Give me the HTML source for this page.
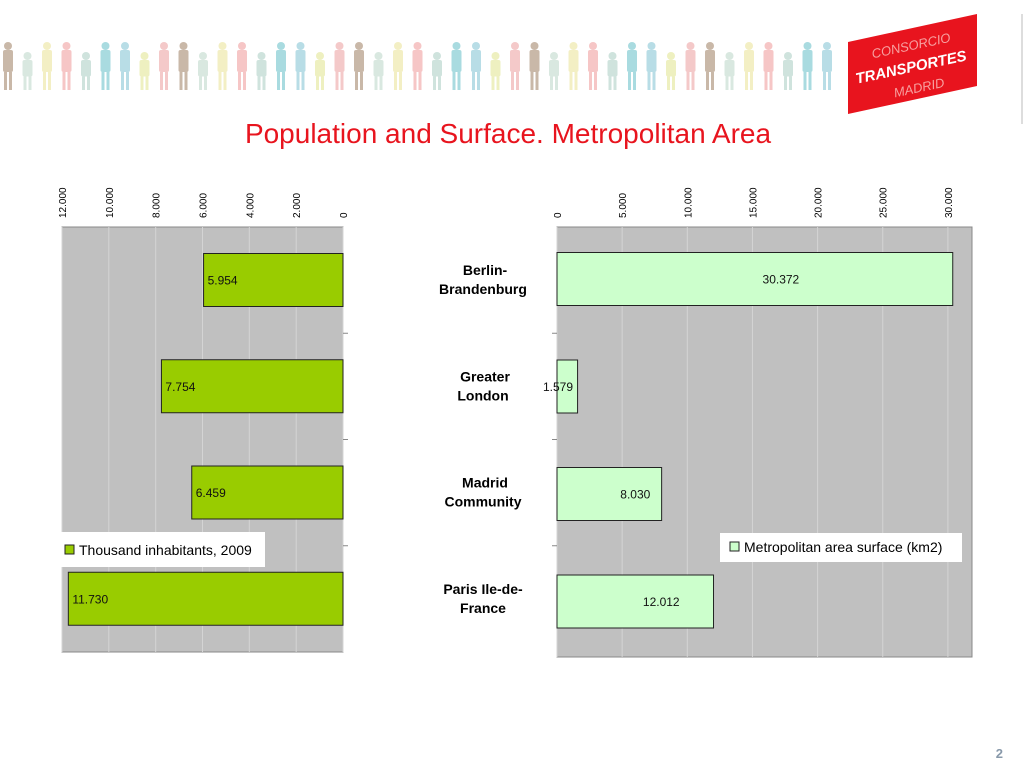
<!DOCTYPE html>
<html><head><meta charset="utf-8"><style>
body{margin:0;width:1024px;height:768px;background:#fff;position:relative;overflow:hidden;font-family:"Liberation Sans","DejaVu Sans",sans-serif}
svg{position:absolute;left:0;top:0}
</style></head><body>
<svg width="1024" height="768" id="s">
<g id="people"></g>
<g>
<polygon points="848,42 977,14 977,86 848,114" fill="#e8141e"/>
<text x="912" y="50" font-size="13" fill="#f7a0a0" font-style="italic" text-anchor="middle" transform="rotate(-12 912 50)">CONSORCIO</text>
<text x="912" y="72" font-size="15" font-weight="bold" fill="#fff" font-style="italic" text-anchor="middle" transform="rotate(-12 912 72)">TRANSPORTES</text>
<text x="920" y="92" font-size="13" fill="#f7a0a0" font-style="italic" text-anchor="middle" transform="rotate(-12 920 92)">MADRID</text>
</g>
<rect x="1021" y="14" width="2" height="110" fill="#ddd"/>
<text x="508" y="143" font-size="28" fill="#e8141e" text-anchor="middle">Population and Surface. Metropolitan Area</text>
<g id="left"></g>
<g id="right"></g>
<g id="cats"></g>
<text x="1003" y="758" font-size="13" font-weight="bold" fill="#8899aa" text-anchor="end">2</text>
</svg>
<script>
const categories=["Berlin-\nBrandenburg","Greater\nLondon","Madrid\nCommunity","Paris Ile-de-\nFrance"];
const population=[5954,7754,6459,11730];
const popLabels=["5.954","7.754","6.459","11.730"];
const surface=[30372,1579,8030,12012];
const surfLabels=["30.372","1.579","8.030","12.012"];
const popTicks=[0,2000,4000,6000,8000,10000,12000];
const surfTicks=[0,5000,10000,15000,20000,25000,30000];
const NS="http://www.w3.org/2000/svg";
function mk(p,t,a,txt){const e=document.createElementNS(NS,t);for(const k in a)e.setAttribute(k,a[k]);if(txt!==undefined)e.textContent=txt;p.appendChild(e);return e;}
function fmt(v){return v===0?"0":(v/1000).toFixed(3);}
const pc=["#c9b8a8","#d9e8e0","#f3efc4","#f6c6c6","#cfe3dd","#a9dbe0","#b8dde6","#eef0c0","#f4c9c9"];
const P=document.getElementById('people');
for(let i=0;i<43;i++){const x=8+i*19.5,c=pc[i%pc.length],h=(i%3==1)?30:40;
const f=mk(P,'g',{});


mk(f,'circle',{cx:x,cy:90-h-4,r:4,fill:c});mk(f,'rect',{x:x-5,y:90-h,width:10,height:h*0.55,fill:c,rx:2});
mk(f,'rect',{x:x-4,y:90-h*0.45,width:3,height:h*0.45,fill:c});mk(f,'rect',{x:x+1,y:90-h*0.45,width:3,height:h*0.45,fill:c});}
const pTop=227,band=106.25;
const L=document.getElementById('left');
const lx0=343,lmax=12000,lw=281;const lx=v=>lx0-v/lmax*lw;
const lbg=mk(L,'rect',{x:lx(lmax),y:pTop,width:lw,height:425,fill:"#c0c0c0",stroke:"#888"});

popTicks.forEach(t=>{mk(L,'line',{x1:lx(t),x2:lx(t),y1:pTop,y2:652,stroke:"#d4d4d4"});
const tx=mk(L,'text',{x:0,y:0,'font-size':10,fill:"#000",transform:`translate(${lx(t)+4},${218}) rotate(-90)`},fmt(t));
});
for(let i=1;i<4;i++)mk(L,'line',{x1:343,x2:348,y1:pTop+i*band,y2:pTop+i*band,stroke:"#888"});
population.forEach((v,i)=>{const y=pTop+i*band+26.5;
const b=mk(L,'rect',{x:lx(v),y:y,width:lx0-lx(v),height:53,fill:"#99cc00",stroke:"#222"});

const t=mk(L,'text',{x:lx(v)+4,y:y+31,'font-size':12,fill:"#111"},popLabels[i]);
});
const lg=mk(L,'g',{});
mk(lg,'rect',{x:55,y:532,width:210,height:35,fill:"#fff"});
mk(lg,'rect',{x:65,y:545,width:9,height:9,fill:"#99cc00",stroke:"#222"});
mk(lg,'text',{x:79,y:555,'font-size':14,fill:"#000"},"Thousand inhabitants, 2009");
const R=document.getElementById('right');
const rx0=557,rmax=31850,rw=415;const rx=v=>rx0+v/rmax*rw;
const rbg=mk(R,'rect',{x:rx0,y:pTop,width:rw,height:430,fill:"#c0c0c0",stroke:"#888"});

surfTicks.forEach(t=>{mk(R,'line',{x1:rx(t),x2:rx(t),y1:pTop,y2:657,stroke:"#d4d4d4"});
const tx=mk(R,'text',{x:0,y:0,'font-size':10,fill:"#000",transform:`translate(${rx(t)+4},${218}) rotate(-90)`},fmt(t));
});
for(let i=1;i<4;i++)mk(R,'line',{x1:552,x2:557,y1:pTop+i*band,y2:pTop+i*band,stroke:"#888"});
surface.forEach((v,i)=>{const y=pTop+i*107.5+25.5;
const b=mk(R,'rect',{x:rx0,y:y,width:rx(v)-rx0,height:53,fill:"#ccffcc",stroke:"#222"});

const w=rx(v)-rx0;
const cx=w<40?rx0+1:(rx0+rx(v))/2+26;
const t=mk(R,'text',{x:cx,y:y+31,'font-size':12,fill:"#111",'text-anchor':'middle'},surfLabels[i]);
});
const rg=mk(R,'g',{});
mk(rg,'rect',{x:720,y:533,width:242,height:29,fill:"#fff"});
mk(rg,'rect',{x:730,y:542,width:9,height:9,fill:"#ccffcc",stroke:"#222"});
mk(rg,'text',{x:744,y:552,'font-size':14,fill:"#000"},"Metropolitan area surface (km2)");
const C=document.getElementById('cats');
categories.forEach((c,i)=>{const ls=c.split("\n");const y=pTop+i*band+48;
ls.forEach((s,j)=>{const t=mk(C,'text',{x:j==0&&ls[0].length<10?485:483,y:y+j*19,'font-size':14,'font-weight':'bold','text-anchor':'middle',fill:"#000"},s);
});});
</script>
</body></html>
